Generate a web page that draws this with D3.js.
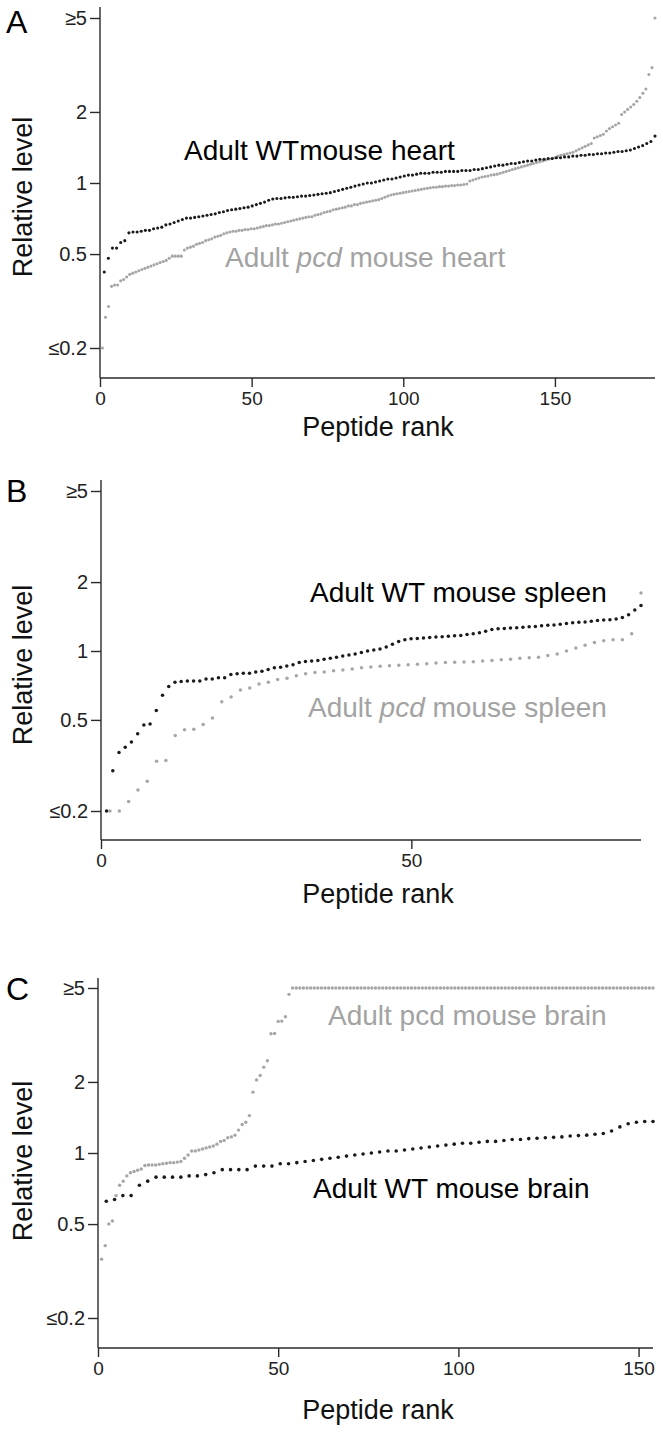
<!DOCTYPE html>
<html><head><meta charset="utf-8">
<script src="https://cdn.jsdelivr.net/npm/d3@7"></script>
<style>
body{margin:0;background:#fff}
svg{display:block}
text{font-family:"Liberation Sans",Arial,Helvetica,sans-serif}
</style>
</head><body>
<svg id="chart" width="663" height="1432"></svg>
<script>
// ---------------- DATA ----------------
const yTickValues = [0.2, 0.5, 1, 2, 5];
const yTickLabels = ["\u22640.2", "0.5", "1", "2", "\u22655"];

// Panel A: heart
const heartXTicks = [0, 50, 100, 150];
const heartRankMax = 183;
const wtHeartRankRange = [1.4, 183];
const wtHeart = [
0.42,0.48,0.53,0.53,0.56,0.57,0.615,0.62,0.62,0.625,
0.63,0.63,0.64,0.645,0.65,0.665,0.67,0.68,0.69,0.70,
0.71,0.71,0.715,0.72,0.725,0.73,0.735,0.74,0.75,0.755,
0.765,0.77,0.775,0.78,0.785,0.79,0.80,0.81,0.82,0.83,
0.845,0.855,0.86,0.86,0.865,0.87,0.87,0.875,0.88,0.88,
0.885,0.89,0.895,0.90,0.905,0.91,0.92,0.93,0.94,0.95,
0.96,0.97,0.98,0.99,1.0,1.0,1.01,1.02,1.03,1.04,
1.04,1.05,1.06,1.07,1.08,1.08,1.09,1.10,1.10,1.10,
1.11,1.11,1.11,1.12,1.12,1.12,1.12,1.13,1.13,1.13,
1.14,1.14,1.15,1.16,1.17,1.18,1.19,1.19,1.20,1.21,
1.21,1.22,1.23,1.24,1.24,1.25,1.26,1.26,1.27,1.27,
1.28,1.28,1.29,1.29,1.30,1.30,1.31,1.31,1.32,1.32,
1.33,1.33,1.34,1.34,1.35,1.36,1.36,1.37,1.38,1.40,
1.42,1.44,1.47,1.50,1.58
];
const pcdHeartRankRange = [0.8, 183];
const pcdHeart = [
0.20,0.27,0.30,0.365,0.37,0.37,0.385,0.39,0.40,0.41,
0.415,0.42,0.425,0.43,0.435,0.44,0.445,0.45,0.455,0.46,
0.465,0.47,0.48,0.49,0.49,0.49,0.49,0.52,0.53,0.535,
0.54,0.55,0.555,0.56,0.57,0.575,0.58,0.59,0.595,0.60,
0.61,0.615,0.62,0.625,0.625,0.63,0.63,0.635,0.635,0.64,
0.64,0.645,0.65,0.655,0.66,0.66,0.665,0.67,0.67,0.675,
0.68,0.685,0.69,0.695,0.70,0.705,0.71,0.715,0.72,0.72,
0.73,0.735,0.74,0.75,0.755,0.76,0.77,0.775,0.78,0.785,
0.79,0.80,0.80,0.81,0.81,0.82,0.825,0.83,0.835,0.84,
0.845,0.85,0.86,0.87,0.88,0.89,0.895,0.90,0.905,0.91,
0.915,0.92,0.925,0.93,0.935,0.94,0.945,0.95,0.955,0.96,
0.96,0.965,0.965,0.97,0.97,0.975,0.975,0.98,0.98,0.985,
0.99,1.02,1.03,1.04,1.05,1.06,1.065,1.07,1.08,1.085,
1.09,1.10,1.11,1.12,1.13,1.14,1.15,1.16,1.17,1.18,
1.19,1.20,1.21,1.22,1.23,1.24,1.25,1.26,1.27,1.28,
1.30,1.31,1.32,1.33,1.34,1.35,1.37,1.39,1.41,1.43,
1.45,1.47,1.55,1.57,1.59,1.61,1.66,1.70,1.73,1.76,
1.79,1.95,2.00,2.05,2.10,2.15,2.22,2.30,2.40,2.50,
2.88,3.08,5.0
];

// Panel B: spleen
const spleenXTicks = [0, 50];
const spleenRankMax = 87;
const wtSpleenRankRange = [0.9, 87];
const wtSpleen = [
0.20,0.30,0.36,0.38,0.40,0.435,0.475,0.48,0.55,0.64,
0.70,0.73,0.735,0.74,0.74,0.74,0.755,0.755,0.765,0.765,
0.79,0.795,0.80,0.80,0.81,0.815,0.83,0.845,0.85,0.86,
0.87,0.89,0.90,0.905,0.91,0.92,0.93,0.94,0.95,0.96,
0.97,0.985,1.00,1.01,1.02,1.04,1.07,1.10,1.12,1.13,
1.135,1.14,1.145,1.15,1.155,1.16,1.165,1.17,1.18,1.19,
1.20,1.22,1.24,1.25,1.255,1.26,1.265,1.27,1.275,1.28,
1.29,1.295,1.30,1.31,1.32,1.33,1.335,1.34,1.35,1.36,
1.365,1.37,1.38,1.40,1.44,1.51,1.58
];
const pcdSpleenRankRange = [1.45, 87];
const pcdSpleen = [
0.20,0.20,0.22,0.247,0.27,0.33,0.332,0.427,0.453,0.455,
0.477,0.51,0.60,0.63,0.675,0.69,0.718,0.73,0.75,0.76,
0.78,0.795,0.805,0.81,0.82,0.826,0.835,0.845,0.852,0.857,
0.862,0.866,0.87,0.875,0.88,0.886,0.89,0.892,0.895,0.898,
0.905,0.91,0.915,0.92,0.93,0.935,0.94,0.955,0.97,1.00,
1.03,1.06,1.09,1.11,1.12,1.12,1.19,1.79
];

// Panel C: brain
const brainXTicks = [0, 50, 100, 150];
const brainRankMax = 154;
const pcdBrainRankRange = [1, 154];
const pcdBrain = [
0.355,0.405,0.50,0.515,0.66,0.73,0.76,0.80,0.825,0.835,
0.845,0.855,0.885,0.89,0.89,0.89,0.895,0.90,0.905,0.91,
0.91,0.915,0.92,0.95,0.98,1.02,1.02,1.03,1.04,1.05,
1.06,1.07,1.09,1.12,1.13,1.16,1.17,1.19,1.25,1.32,
1.35,1.44,1.81,2.04,2.13,2.31,2.46,3.20,3.21,3.61,
3.62,3.78,4.70,
5,5,5,5,5,5,5,5,5,5,5,5,5,5,5,5,5,5,5,5,
5,5,5,5,5,5,5,5,5,5,5,5,5,5,5,5,5,5,5,5,
5,5,5,5,5,5,5,5,5,5,5,5,5,5,5,5,5,5,5,5,
5,5,5,5,5,5,5,5,5,5,5,5,5,5,5,5,5,5,5,5,
5,5,5,5,5,5,5,5,5,5,5,5,5,5,5,5,5,5,5,5,
5
];
const wtBrainRankRange = [2.3, 154];
const wtBrain = [
0.625,0.635,0.66,0.66,0.73,0.76,0.79,0.79,0.79,0.79,
0.80,0.80,0.81,0.825,0.85,0.85,0.85,0.85,0.88,0.88,
0.88,0.90,0.90,0.91,0.92,0.93,0.94,0.95,0.96,0.97,
0.98,0.99,1.00,1.01,1.02,1.02,1.03,1.04,1.05,1.06,
1.07,1.08,1.09,1.10,1.10,1.11,1.12,1.12,1.13,1.14,
1.14,1.15,1.155,1.16,1.165,1.17,1.18,1.185,1.19,1.20,
1.21,1.24,1.29,1.33,1.35,1.36,1.36
];

// ---------------- DRAWING ----------------
const BLACK = "#1a1a1a", GREY = "#a6a6a6", GREY_TEXT = "#a3a3a3", AXIS = "#2a2a2a";
const FONT = '"Liberation Sans",Arial,Helvetica,sans-serif';
const svg = d3.select("#chart");

const panels = [
  {letter:"A", letterY:33, x0:100, x1:655, rankMax:heartRankMax, xTicks:heartXTicks,
   yTop5:18, yBot02:348, axisY:378, lineTop:7, titleY:436, ylabelY:197,
   series:[{v:pcdHeart, rr:pcdHeartRankRange, c:GREY, r:1.55},{v:wtHeart, rr:wtHeartRankRange, c:BLACK, r:1.55}],
   labels:[{t:["Adult WTmouse heart"], x:184, y:160, c:"#000"},
           {t:["Adult ","pcd"," mouse heart"], x:225, y:267, c:GREY_TEXT}]},
  {letter:"B", letterY:502, x0:101, x1:641, rankMax:spleenRankMax, xTicks:spleenXTicks,
   yTop5:491, yBot02:811, axisY:840, lineTop:480, titleY:903, ylabelY:665,
   series:[{v:pcdSpleen, rr:pcdSpleenRankRange, c:GREY, r:1.75},{v:wtSpleen, rr:wtSpleenRankRange, c:BLACK, r:1.75}],
   labels:[{t:["Adult WT mouse spleen"], x:310, y:602, c:"#000"},
           {t:["Adult ","pcd"," mouse spleen"], x:308, y:717, c:GREY_TEXT}]},
  {letter:"C", letterY:1000, x0:98, x1:653, rankMax:brainRankMax, xTicks:brainXTicks,
   yTop5:988, yBot02:1318, axisY:1348, lineTop:978, titleY:1419, ylabelY:1161,
   series:[{v:pcdBrain, rr:pcdBrainRankRange, c:GREY, r:1.7},{v:wtBrain, rr:wtBrainRankRange, c:BLACK, r:1.8}],
   labels:[{t:["Adult pcd mouse brain"], x:328, y:1025, c:GREY_TEXT, noItalic:true},
           {t:["Adult WT mouse brain"], x:313, y:1198, c:"#000"}]}
];

panels.forEach(p => {
  const g = svg.append("g");
  const x = d3.scaleLinear().domain([0, p.rankMax]).range([p.x0, p.x1]);
  const y = d3.scaleLog().domain([0.2, 5]).range([p.yBot02, p.yTop5]);

  g.append("line").attr("x1", p.x0).attr("x2", p.x0).attr("y1", p.lineTop).attr("y2", p.axisY)
    .attr("stroke", AXIS).attr("stroke-width", 1.4);
  g.append("line").attr("x1", p.x0).attr("x2", p.x1).attr("y1", p.axisY).attr("y2", p.axisY)
    .attr("stroke", AXIS).attr("stroke-width", 1.4);

  const yAxis = d3.axisLeft(y).tickValues(yTickValues)
    .tickFormat((d,i) => yTickLabels[i]).tickSize(10).tickPadding(3);
  const ya = g.append("g").attr("transform", `translate(${p.x0},0)`).call(yAxis);
  ya.attr("font-size", null).attr("font-family", null);
  ya.select(".domain").remove();
  ya.selectAll(".tick line").attr("stroke", AXIS).attr("stroke-width", 1.4);
  ya.selectAll(".tick text").style("font-size", "20px").attr("fill", "#222").style("font-family", FONT);

  const xAxis = d3.axisBottom(x).tickValues(p.xTicks).tickFormat(d3.format("d")).tickSize(9).tickPadding(5);
  const xa = g.append("g").attr("transform", `translate(0,${p.axisY})`).call(xAxis);
  xa.attr("font-size", null).attr("font-family", null);
  xa.select(".domain").remove();
  xa.selectAll(".tick line").attr("stroke", AXIS).attr("stroke-width", 1.4);
  xa.selectAll(".tick text").style("font-size", "19px").attr("fill", "#222").style("font-family", FONT);

  p.series.forEach(s => {
    const idx = d3.scaleLinear().domain([0, s.v.length - 1]).range(s.rr);
    g.append("g").selectAll("circle").data(s.v).join("circle")
      .attr("cx", (d,i) => x(idx(i)))
      .attr("cy", d => y(d))
      .attr("r", s.r)
      .attr("fill", s.c);
  });

  p.labels.forEach(l => {
    const t = g.append("text").attr("x", l.x).attr("y", l.y).style("font-size", "28px").attr("fill", l.c);
    l.t.forEach(part => {
      const ts = t.append("tspan").text(part);
      if (part === "pcd" && !l.noItalic) ts.attr("font-style", "italic");
    });
  });

  g.append("text").attr("x", 6).attr("y", p.letterY).style("font-size", "32px").attr("fill", "#000").text(p.letter);

  g.append("text").attr("transform", `translate(32,${p.ylabelY}) rotate(-90)`)
    .attr("text-anchor", "middle").style("font-size", "27px").attr("fill", "#111").text("Relative level");
  g.append("text").attr("x", 378).attr("y", p.titleY).attr("text-anchor", "middle")
    .style("font-size", "27px").attr("fill", "#111").text("Peptide rank");
});
</script>
</body></html>
